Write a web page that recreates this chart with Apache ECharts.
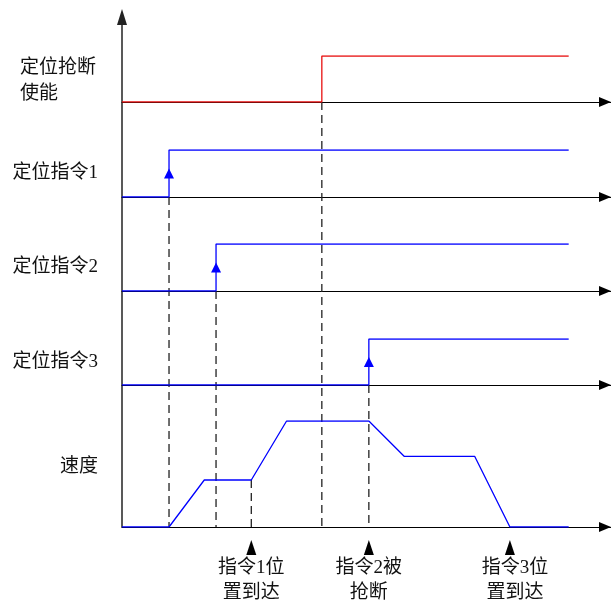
<!DOCTYPE html>
<html><head><meta charset="utf-8">
<script src="https://cdn.jsdelivr.net/npm/echarts@6/dist/echarts.min.js"></script>
<style>html,body{margin:0;padding:0;background:#fff}#c{width:611px;height:610px}</style>
</head><body><div id="c"></div>
<script>
// ---------------- data ----------------
const rowLabels = ['定位抢断\n使能', '定位指令1', '定位指令2', '定位指令3', '速度'];
const signalRiseTimes = [42.5, 10, 20, 52.5];     // time each signal goes high
const signalEndTime = 95;
const signalLow = 0, signalHigh = 1;
const speedTimes  = [0, 10, 17.5, 27.5, 35, 52.5, 60, 75, 82.5, 95];
const speedValues = [0, 0, 1330, 1330, 3000, 3000, 2000, 2000, 0, 0];
const speedMax = 3000;
const eventTimes  = [27.5, 52.5, 82.5];
const eventLabels = ['指令1位\n置到达', '指令2被\n抢断', '指令3位\n置到达'];
// dashed guide lines: time, starting row, starting value (down to speed baseline)
const guideTimes     = [10, 20, 42.5, 27.5, 52.5];
const guideFromRow   = [1, 2, 0, 4, 3];
const guideFromValue = [0, 0, 0, 1330, 0];

// ---------------- layout ----------------
const xMax = 104;
const axisLeft = 122;
const rowTop    = [56, 150, 244, 339, 421];
const rowBottom = [102, 197, 291, 385, 527];
const rowColors = ['#e81010', '#0000ff', '#0000ff', '#0000ff', '#0000ff'];
const labelDy = [2, 0, 0, 0, -7];
const eventLabelDx = [0, 0, 5];
const FONT = '"Liberation Serif", "Noto Sans CJK SC", serif';

const hidden = {show: false};
function xAxisStyled(gridIndex, show) {
  return {
    type: 'value', gridIndex, min: 0, max: xMax,
    axisLine: show ? {show: true, onZero: true, symbol: ['none', 'triangle'], symbolSize: [10, 12], symbolOffset: [0, -6],
      lineStyle: {color: '#000', width: 1}} : hidden,
    axisTick: hidden, axisLabel: hidden, splitLine: hidden
  };
}
function yAxisPlain(gridIndex, max) {
  return {type: 'value', gridIndex, min: 0, max, axisLine: hidden, axisTick: hidden, axisLabel: hidden, splitLine: hidden};
}

const grids = [{left: axisLeft, right: 0, top: 17, bottom: 610 - rowBottom[4], outerBoundsMode: 'none'}];
const xAxes = [xAxisStyled(0, true)];
const yAxes = [{
  type: 'value', gridIndex: 0, min: 0, max: 1,
  axisLine: {show: true, symbol: ['none', 'triangle'], symbolSize: [10, 16], lineStyle: {color: '#222', width: 1.5}},
  axisTick: hidden, axisLabel: hidden, splitLine: hidden
}];
for (let r = 0; r < 5; r++) {
  grids.push({left: axisLeft, right: 0, top: rowTop[r], height: rowBottom[r] - rowTop[r], outerBoundsMode: 'none'});
  xAxes.push(xAxisStyled(r + 1, r < 4));
  yAxes.push(yAxisPlain(r + 1, r < 4 ? signalHigh : speedMax));
}

const series = [];
signalRiseTimes.forEach((t, r) => {
  const s = {
    type: 'line', xAxisIndex: r + 1, yAxisIndex: r + 1, step: 'end', showSymbol: false, silent: true,
    data: [[0, signalLow], [t, signalHigh], [signalEndTime, signalHigh]],
    lineStyle: {color: rowColors[r], width: 1.3}, z: 3
  };
  if (r > 0) {
    s.markPoint = {
      symbol: 'triangle', symbolSize: [10, 10], silent: true,
      label: {show: false}, itemStyle: {color: rowColors[r]},
      data: [{coord: [t, (signalLow + signalHigh) / 2]}]
    };
  }
  series.push(s);
});
series.push({
  type: 'line', xAxisIndex: 5, yAxisIndex: 5, showSymbol: false, silent: true,
  data: speedTimes.map((t, i) => [t, speedValues[i]]),
  lineStyle: {color: rowColors[4], width: 1.3}, z: 3
});

const chart = echarts.init(document.getElementById('c'), null, {renderer: 'canvas'});
chart.setOption({animation: false, backgroundColor: '#fff', grid: grids, xAxis: xAxes, yAxis: yAxes, series});

const graphics = [];
guideTimes.forEach((t, k) => {
  const p1 = chart.convertToPixel({gridIndex: guideFromRow[k] + 1}, [t, guideFromValue[k]]);
  const p2 = chart.convertToPixel({gridIndex: 5}, [t, 0]);
  graphics.push({type: 'line', silent: true, z: 1,
    shape: {x1: p1[0], y1: p1[1], x2: p2[0], y2: p2[1]},
    style: {stroke: '#222', lineWidth: 1.3, lineDash: [8, 5]}});
});
eventTimes.forEach((t, k) => {
  const p = chart.convertToPixel({gridIndex: 5}, [t, 0]);
  graphics.push({type: 'polygon', silent: true,
    shape: {points: [[p[0], p[1] + 13], [p[0] - 5, p[1] + 28], [p[0] + 5, p[1] + 28]]},
    style: {fill: '#000'}});
  graphics.push({type: 'text', silent: true, x: p[0] + eventLabelDx[k], y: p[1] + 29,
    style: {text: eventLabels[k], fill: '#111', font: '19px ' + FONT, align: 'center', verticalAlign: 'top', lineHeight: 25}});
});
rowLabels.forEach((txt, r) => {
  const yMid = (rowTop[r] + rowBottom[r]) / 2 + labelDy[r];
  const multi = txt.indexOf('\n') >= 0;
  graphics.push({type: 'text', silent: true, x: multi ? 20 : 98, y: yMid,
    style: {text: txt, fill: '#111', font: '19px ' + FONT, align: multi ? 'left' : 'right', verticalAlign: 'middle', lineHeight: 26}});
});
chart.setOption({graphic: graphics});
</script>
</body></html>
